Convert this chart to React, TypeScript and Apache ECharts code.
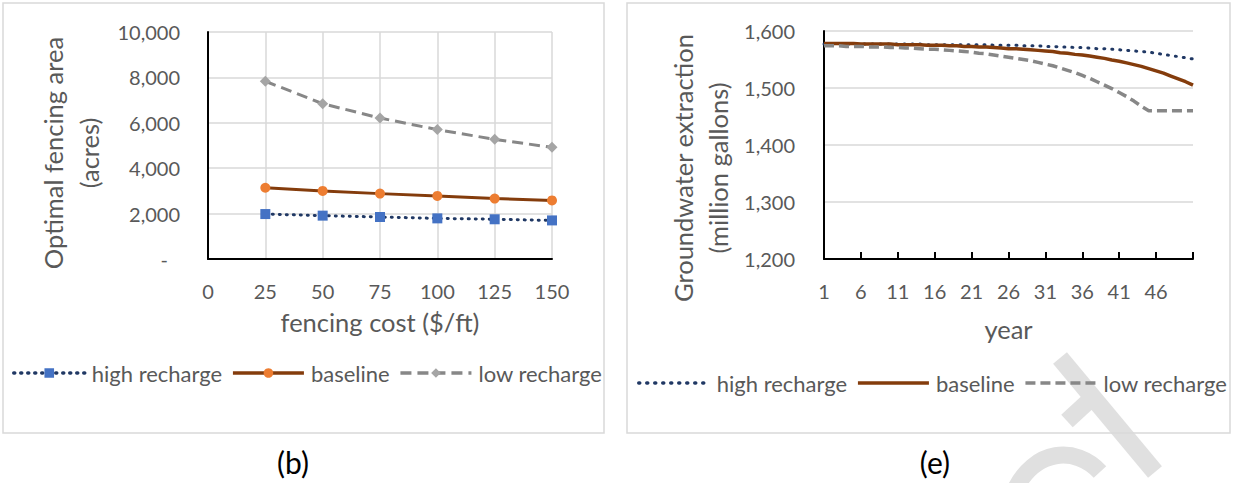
import React, { useEffect, useRef } from "react";
import * as echarts from "echarts";

// ---------- Panel (b): optimal fencing area vs fencing cost ----------
const costTicks = [25, 50, 75, 100, 125, 150];
const highFence = [1980, 1910, 1850, 1790, 1750, 1700];
const baseFence = [3140, 3000, 2880, 2780, 2660, 2580];
const lowFence = [7830, 6840, 6210, 5700, 5270, 4920];

// ---------- Panel (e): groundwater extraction by year ----------
const years = [
  "1", "2", "3", "4", "5", "6", "7", "8", "9", "10",
  "11", "12", "13", "14", "15", "16", "17", "18", "19", "20",
  "21", "22", "23", "24", "25", "26", "27", "28", "29", "30",
  "31", "32", "33", "34", "35", "36", "37", "38", "39", "40",
  "41", "42", "43", "44", "45", "46", "47", "48", "49", "50", "51",
];
const highExtr = [
  1577, 1577, 1577, 1577, 1577, 1577, 1577, 1577, 1577, 1577,
  1577, 1577, 1577, 1577, 1576, 1576, 1576, 1576, 1576, 1576,
  1576, 1576, 1576, 1575, 1575, 1575, 1575, 1574, 1574, 1574,
  1573, 1573, 1572, 1572, 1571, 1571, 1570, 1569, 1569, 1568,
  1567, 1566, 1565, 1564, 1563, 1561, 1559, 1557, 1555, 1553, 1551,
];
const baseExtr = [
  1578, 1578, 1578, 1578, 1578, 1577, 1577, 1577, 1577, 1577,
  1576, 1576, 1576, 1576, 1575, 1575, 1575, 1574, 1574, 1573,
  1573, 1572, 1572, 1571, 1570, 1569, 1569, 1568, 1567, 1566,
  1565, 1564, 1562, 1561, 1559, 1558, 1556, 1554, 1552, 1549,
  1547, 1544, 1541, 1538, 1534, 1530, 1526, 1521, 1516, 1511, 1505,
];
const lowExtr = [
  1574, 1574, 1574, 1573, 1573, 1573, 1572, 1572, 1572, 1571,
  1571, 1570, 1570, 1569, 1568, 1568, 1567, 1566, 1565, 1564,
  1563, 1561, 1560, 1558, 1556, 1554, 1552, 1550, 1548, 1545,
  1542, 1539, 1535, 1531, 1527, 1522, 1517, 1511, 1505, 1499,
  1492, 1485, 1477, 1468, 1460, 1460, 1460, 1460, 1460, 1460, 1460,
];

const seriesNames = ["high recharge", "baseline", "low recharge"];
const SUFFIX = " (e)";

const FONT = "Lato";
const TXT = "#595959";
const GRID_C = "#d9d9d9";
const NAVY = "#203864";
const BLUE = "#4472C4";
const BROWN = "#843C0C";
const ORANGE = "#ED7D31";
const GRAY = "#878787";
const LGRAY = "#A5A5A5";
const WM = "#e0e0e0";

const fmt = (v: number) => v.toLocaleString("en-US");

export default function App() {
  const ref = useRef<HTMLDivElement>(null);

  useEffect(() => {
    if (!ref.current) return;
    const chart = echarts.init(ref.current, undefined, { renderer: "svg" });

    const pair = (arr: number[]) => costTicks.map((c, i) => [c, arr[i]]);

    const legendBase = {
      padding: 0,
      itemWidth: 71,
      itemHeight: 12,
      itemGap: 9,
      lineStyle: { width: 3.5 },
      textStyle: { color: TXT, fontSize: 22, fontFamily: FONT, padding: [0, 0, 0, 2] },
    };

    const option: any = {
      animation: false,
      backgroundColor: "#ffffff",
      textStyle: { fontFamily: FONT, color: TXT },
      grid: [
        { left: 208, top: 32, width: 344, height: 227, outerBoundsMode: "none", containLabel: false },
        { left: 824, top: 31, width: 369, height: 228, outerBoundsMode: "none", containLabel: false },
      ],
      xAxis: [
        {
          type: "value",
          gridIndex: 0,
          min: 0,
          max: 150,
          interval: 25,
          axisLine: { show: true, onZero: false, lineStyle: { color: "#000", width: 2 } },
          axisTick: { show: false },
          splitLine: { show: true, lineStyle: { color: GRID_C, width: 1.5 } },
          axisLabel: { color: TXT, fontSize: 20, margin: 22, fontFamily: FONT },
          name: "fencing cost ($/ft)",
          nameLocation: "middle",
          nameGap: 50,
          nameTextStyle: { color: TXT, fontSize: 25.5, fontFamily: FONT },
        },
        {
          type: "category",
          gridIndex: 1,
          data: years,
          boundaryGap: false,
          axisLine: { show: true, onZero: false, lineStyle: { color: "#000", width: 2 } },
          axisTick: {
            show: true,
            inside: true,
            interval: 4,
            length: 7,
            lineStyle: { color: "#000", width: 2 },
          },
          splitLine: { show: false },
          axisLabel: {
            color: TXT,
            fontSize: 20,
            margin: 22,
            fontFamily: FONT,
            interval: (i: number) => i % 5 === 0 && i < 50,
          },
          name: "year",
          nameLocation: "middle",
          nameGap: 57,
          nameTextStyle: { color: TXT, fontSize: 25.5, fontFamily: FONT },
        },
      ],
      yAxis: [
        {
          type: "value",
          gridIndex: 0,
          min: 0,
          max: 10000,
          interval: 2000,
          axisLine: { show: true, lineStyle: { color: "#000", width: 2 } },
          axisTick: { show: false },
          splitLine: { show: true, lineStyle: { color: GRID_C, width: 1.5 } },
          axisLabel: {
            color: TXT,
            fontSize: 20,
            margin: 28,
            fontFamily: FONT,
            formatter: (v: number) => (v === 0 ? "{d|-}" : fmt(v)),
            rich: { d: { color: TXT, fontSize: 20, fontFamily: FONT, padding: [0, 12, 0, 0] } },
          },
          name: "Optimal fencing area\n(acres)",
          nameLocation: "middle",
          nameGap: 101,
          nameTextStyle: {
            color: TXT,
            fontSize: 25.5,
            lineHeight: 36,
            fontFamily: FONT,
            padding: [0, 15, 0, 0],
          },
        },
        {
          type: "value",
          gridIndex: 1,
          min: 1200,
          max: 1600,
          interval: 100,
          axisLine: { show: true, lineStyle: { color: "#000", width: 2 } },
          axisTick: { show: false },
          splitLine: { show: true, lineStyle: { color: GRID_C, width: 1.5 } },
          axisLabel: { color: TXT, fontSize: 20, margin: 29, fontFamily: FONT, formatter: (v: number) => fmt(v) },
          name: "Groundwater extraction\n(million gallons)",
          nameLocation: "middle",
          nameGap: 89,
          nameTextStyle: {
            color: TXT,
            fontSize: 25.5,
            lineHeight: 35,
            fontFamily: FONT,
            padding: [0, 46, 0, 0],
          },
        },
      ],
      legend: [
        {
          ...legendBase,
          left: 12,
          top: 362,
          data: seriesNames,
        },
        {
          ...legendBase,
          left: 637,
          top: 372,
          itemStyle: { opacity: 0 },
          data: seriesNames.map((n) => n + SUFFIX),
          formatter: (n: string) => n.replace(SUFFIX, ""),
        },
      ],
      series: [
        {
          name: "high recharge",
          type: "line",
          xAxisIndex: 0,
          yAxisIndex: 0,
          data: pair(highFence),
          symbol: "rect",
          symbolSize: 10,
          itemStyle: { color: BLUE },
          lineStyle: { color: NAVY, width: 3, type: [1, 6], cap: "round" },
          z: 3,
        },
        {
          name: "baseline",
          type: "line",
          xAxisIndex: 0,
          yAxisIndex: 0,
          data: pair(baseFence),
          symbol: "circle",
          symbolSize: 10,
          itemStyle: { color: ORANGE },
          lineStyle: { color: BROWN, width: 3 },
          z: 3,
        },
        {
          name: "low recharge",
          type: "line",
          xAxisIndex: 0,
          yAxisIndex: 0,
          data: pair(lowFence),
          symbol: "diamond",
          symbolSize: 11,
          itemStyle: { color: LGRAY },
          lineStyle: { color: GRAY, width: 3, type: [11, 6] },
          z: 3,
        },
        {
          name: "high recharge" + SUFFIX,
          type: "line",
          xAxisIndex: 1,
          yAxisIndex: 1,
          data: highExtr,
          symbol: "none",
          itemStyle: { color: NAVY },
          lineStyle: { color: NAVY, width: 3, type: [1, 7], cap: "round" },
          z: 3,
        },
        {
          name: "baseline" + SUFFIX,
          type: "line",
          xAxisIndex: 1,
          yAxisIndex: 1,
          data: baseExtr,
          symbol: "none",
          itemStyle: { color: BROWN },
          lineStyle: { color: BROWN, width: 3.5 },
          z: 3,
        },
        {
          name: "low recharge" + SUFFIX,
          type: "line",
          xAxisIndex: 1,
          yAxisIndex: 1,
          data: lowExtr,
          symbol: "none",
          itemStyle: { color: GRAY },
          lineStyle: { color: GRAY, width: 3.5, type: [10, 5] },
          z: 3,
        },
      ],
      graphic: [
        // faint watermark fragment (bottom right)
        {
          type: "line",
          z: 0,
          shape: { x1: 1060, y1: 358, x2: 1155, y2: 472 },
          style: { stroke: WM, lineWidth: 18, lineCap: "butt" },
        },
        {
          type: "line",
          z: 0,
          shape: { x1: 1092, y1: 398, x2: 1067, y2: 421 },
          style: { stroke: WM, lineWidth: 17 },
        },
        {
          type: "bezierCurve",
          z: 0,
          shape: { x1: 1014, y1: 492, cpx1: 1034, cpy1: 448, cpx2: 1076, cpy2: 446, x2: 1100, y2: 472 },
          style: { stroke: WM, lineWidth: 17, fill: "none" },
        },
        {
          type: "rect",
          z: 1,
          shape: { x: 3, y: 3, width: 601, height: 430 },
          style: { fill: "none", stroke: GRID_C, lineWidth: 1.5 },
        },
        {
          type: "rect",
          z: 1,
          shape: { x: 627, y: 3, width: 603, height: 430 },
          style: { fill: "none", stroke: GRID_C, lineWidth: 1.5 },
        },
        {
          type: "text",
          z: 5,
          x: 293,
          y: 462,
          style: {
            text: "(b)",
            fill: "#000",
            fontSize: 30,
            fontFamily: FONT,
            align: "center",
            verticalAlign: "middle",
          },
        },
        {
          type: "text",
          z: 5,
          x: 935,
          y: 462,
          style: {
            text: "(e)",
            fill: "#000",
            fontSize: 30,
            fontFamily: FONT,
            align: "center",
            verticalAlign: "middle",
          },
        },
      ],
    };

    chart.setOption(option);
    return () => chart.dispose();
  }, []);

  return (
    <div
      ref={ref}
      style={{ position: "fixed", left: 0, top: 0, width: 1237, height: 483, background: "#fff" }}
    />
  );
}
